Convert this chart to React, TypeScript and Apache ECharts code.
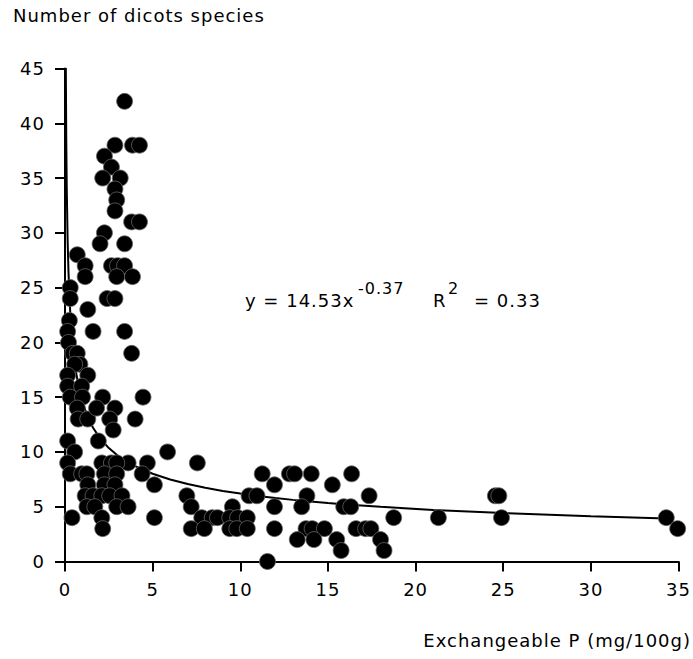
import React, { useEffect, useRef } from "react";
import * as echarts from "echarts";

// Exchangeable P (mg/100g) of each plot
const phosphorus: number[] = [
  3.4,
  2.85, 3.85, 4.25,
  2.25, 2.65, 2.15, 3.15, 2.85, 2.95, 2.85,
  3.8, 4.25, 2.25, 2.0, 3.4, 0.7,
  1.15, 2.65, 3.0, 3.4,
  1.15, 2.95, 3.85,
  0.3, 0.3, 2.4, 2.85, 1.3, 0.25,
  0.15, 1.6, 3.4, 3.8,
  0.2, 0.45, 0.7, 0.85, 0.55, 0.15, 1.3, 0.15, 0.95, 0.3, 1.0, 0.7, 0.75, 1.3,
  2.15, 2.85, 1.8, 2.55, 2.75, 4.45, 4.0,
  0.15, 0.55, 1.9, 5.85,
  0.15, 7.55, 3.6, 4.7, 2.1, 2.65, 2.95,
  0.3, 0.95, 1.25, 2.25, 2.95, 4.4,
  5.1, 1.3, 2.25, 2.85,
  1.15, 1.6, 2.1, 2.55, 3.25, 6.95,
  1.25, 1.7, 2.95, 3.6, 7.2,
  0.4, 2.1, 5.1, 7.8, 8.4,
  2.15, 7.2, 7.95,
  11.25, 11.95, 12.8, 13.1, 14.05, 15.25, 16.35,
  10.5, 10.95, 13.8, 17.35,
  8.7, 9.55, 9.4, 9.85, 10.4,
  9.4, 9.8, 10.4,
  11.95, 11.95, 13.5, 15.9, 16.3, 18.75,
  13.75, 14.1, 14.8,
  13.25, 14.2, 15.5, 15.75,
  16.6, 17.15, 17.45,
  18.0, 18.2,
  11.55,
  21.3, 24.55, 24.75, 24.9, 34.3, 34.95,
];

// Number of dicot species counted on the same plots
const dicotSpecies: number[] = [
  42,
  38, 38, 38,
  37, 36, 35, 35, 34, 33, 32,
  31, 31, 30, 29, 29, 28,
  27, 27, 27, 27,
  26, 26, 26,
  25, 24, 24, 24, 23, 22,
  21, 21, 21, 19,
  20, 19, 19, 18, 18, 17, 17, 16, 16, 15, 15, 14, 13, 13,
  15, 14, 14, 13, 12, 15, 13,
  11, 10, 11, 10,
  9, 9, 9, 9, 9, 9, 9,
  8, 8, 8, 8, 8, 8,
  7, 7, 7, 7,
  6, 6, 6, 6, 6, 6,
  5, 5, 5, 5, 5,
  4, 4, 4, 4, 4,
  3, 3, 3,
  8, 7, 8, 8, 8, 7, 8,
  6, 6, 6, 6,
  4, 5, 4, 4, 4,
  3, 3, 3,
  5, 3, 5, 5, 5, 4,
  3, 3, 3,
  2, 2, 2, 1,
  3, 3, 3,
  2, 1,
  0,
  4, 6, 6, 4, 4, 3,
];

// Power-law fit y = a·x^b reported on the chart
const fitA = 14.53;
const fitB = -0.37;
const fitR2 = 0.33;
const fitSampleX: number[] = [
  0.047, 0.07, 0.1, 0.15, 0.2, 0.3, 0.45, 0.6, 0.8, 1, 1.3, 1.6, 2, 2.5, 3, 3.5,
  4, 5, 6, 7, 8, 9, 10, 11, 12, 13, 14, 15, 16, 18, 21, 25, 30, 34.3,
];

const xTicks = { min: 0, max: 35, interval: 5 };
const yTicks = { min: 0, max: 45, interval: 5 };

const FONT = "'DejaVu Sans', 'Liberation Sans', sans-serif";

export default function App() {
  const ref = useRef<HTMLDivElement>(null);

  useEffect(() => {
    if (!ref.current) return;
    const chart = echarts.init(ref.current, undefined, { renderer: "svg" });

    const points = phosphorus.map((x, i) => [x, dicotSpecies[i]]);
    const fitLine = fitSampleX.map((x) => [x, fitA * Math.pow(x, fitB)]);

    const axisLine = { show: true, lineStyle: { color: "#000", width: 2 } };
    const axisTick = { show: true, length: 10, lineStyle: { color: "#000", width: 2 } };
    const txt = (
      text: string,
      x: number,
      y: number,
      size: number,
      align: "left" | "right" = "left"
    ) => ({
      type: "text",
      x,
      y,
      silent: true,
      style: {
        text,
        font: `${size}px ${FONT}`,
        fill: "#000",
        align,
        verticalAlign: "middle",
      },
    });

    chart.setOption({
      animation: false,
      backgroundColor: "#fff",
      grid: { left: 65, top: 68.5, width: 614, height: 493 },
      xAxis: {
        type: "value",
        ...xTicks,
        axisLine,
        axisTick,
        splitLine: { show: false },
        axisLabel: { color: "#000", fontFamily: FONT, fontSize: 18, margin: 19 },
      },
      yAxis: {
        type: "value",
        ...yTicks,
        axisLine,
        axisTick,
        splitLine: { show: false },
        axisLabel: { color: "#000", fontFamily: FONT, fontSize: 18, margin: 20 },
      },
      graphic: [
        txt("Number of dicots species", 13, 15, 18),
        txt("Exchangeable P (mg/100g)", 691, 640, 18, "right"),
        // fitted equation with superscripts
        txt(`y = ${fitA}x`, 245, 300, 18),
        txt(`${fitB}`, 358, 288, 16),
        txt("R", 433, 300, 18),
        txt("2", 448, 288, 16),
        txt(`= ${fitR2.toFixed(2)}`, 474, 300, 18),
      ],
      series: [
        {
          type: "line",
          data: fitLine,
          showSymbol: false,
          smooth: false,
          lineStyle: { color: "#000", width: 2 },
          z: 2,
          silent: true,
        },
        {
          type: "scatter",
          data: points,
          symbol: "circle",
          symbolSize: 16,
          itemStyle: { color: "#000", opacity: 1, borderColor: "#666", borderWidth: 0.8 },
          z: 3,
        },
      ],
    });

    return () => chart.dispose();
  }, []);

  return (
    <>
      <style>{".dicot-chart svg text { letter-spacing: 1px; }"}</style>
      <div
        ref={ref}
        className="dicot-chart"
        style={{ position: "absolute", left: 0, top: 0, width: 693, height: 659 }}
      />
    </>
  );
}
